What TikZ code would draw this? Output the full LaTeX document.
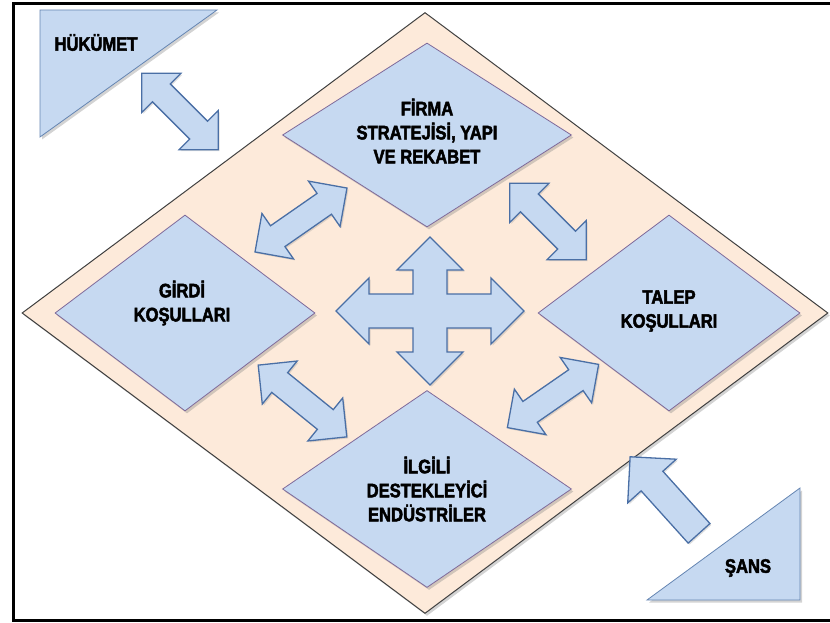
\documentclass[tikz,border=0pt]{standalone}
\usepackage{fontspec}
\newfontfamily\porterfont{Liberation Sans}[FakeStretch=0.85,FakeBold=2.5]
\usetikzlibrary{shapes.geometric,shapes.arrows,shadows}
\definecolor{seftali}{HTML}{FDEADA}
\definecolor{acikmavi}{HTML}{C6D9F1}
\definecolor{okkenar}{HTML}{4A6FA5}
\definecolor{elmaskenar}{HTML}{7F6A9A}
\tikzset{
  etiket/.style={font=\porterfont\fontsize{19.5pt}{24pt}\selectfont\bfseries,align=center,inner sep=0pt},
  golge/.style={drop shadow={opacity=0.35,shadow xshift=2pt,shadow yshift=-2.5pt}},
  buyuk/.style={diamond,draw=black!75,line width=1pt,fill=seftali,inner sep=0pt,golge},
  faktor/.style={diamond,draw=elmaskenar,line width=0.8pt,fill=acikmavi,inner sep=0pt,golge},
  kose/.style={draw=okkenar!85,line width=0.8pt,fill=acikmavi,golge},
  ciftok/.style={double arrow,draw=okkenar,line width=1.3pt,fill=acikmavi,inner sep=0pt,
    inner ysep=12pt,double arrow head extend=15pt,
    drop shadow={opacity=0.25,shadow xshift=1.5pt,shadow yshift=-1.5pt}},
  tekok/.style={single arrow,draw=okkenar,line width=1.3pt,fill=acikmavi,inner sep=0pt,
    inner ysep=14pt,single arrow head extend=18pt,
    drop shadow={opacity=0.25,shadow xshift=1.5pt,shadow yshift=-1.5pt}},
  dortok/.style={draw=okkenar,line width=1.3pt,fill=acikmavi,
    drop shadow={opacity=0.25,shadow xshift=1.5pt,shadow yshift=-1.5pt}}
}
\begin{document}
\begin{tikzpicture}[x=1pt,y=-1pt]
\useasboundingbox (0,0) rectangle (830,623);
\draw[line width=3pt] (13.5,3.5) rectangle (850,620.5);
% elmas
\node[buyuk,minimum width=806pt,minimum height=601pt] (elmas) at (425,313) {};
\node[faktor,minimum width=289pt,minimum height=184pt] (firma) at (427,135) {};
\node[faktor,minimum width=260pt,minimum height=196pt] (girdi) at (185,313) {};
\node[faktor,minimum width=262pt,minimum height=196pt] (talep) at (669,313) {};
\node[faktor,minimum width=289pt,minimum height=197pt] (ilgili) at (427,489) {};
\node[etiket,yshift=4pt] (firmayazi) at (firma) {FİRMA\\STRATEJİSİ, YAPI\\VE REKABET};
\node[etiket,xshift=-3pt,yshift=10pt] (girdiyazi) at (girdi) {GİRDİ\\KOŞULLARI};
\node[etiket,yshift=2pt] (talepyazi) at (talep) {TALEP\\KOŞULLARI};
\node[etiket] (ilgiliyazi) at (ilgili) {İLGİLİ\\DESTEKLEYİCİ\\ENDÜSTRİLER};
% dis etkenler
\draw[kose] (40,10) -- (217,10) -- (40,137) -- cycle;
\node[etiket] (hukumet) at (96,42.5) {HÜKÜMET};
\draw[kose] (800,488) -- (800,600) -- (647,600) -- cycle;
\node[etiket] (sans) at (748,568) {ŞANS};
% oklar
\node[ciftok,minimum height=108pt,rotate=-45] (hukumetok) at (180,111.5) {};
\path (girdi.center) -- node[ciftok,minimum height=112pt,xshift=-5pt,yshift=4pt,rotate=34.8] (girdifirma) {} (firma.center);
\path (firma.center) -- node[ciftok,minimum height=108pt,yshift=2.5pt,rotate=-45] (firmatalep) {} (talep.center);
\path (girdi.center) -- node[ciftok,minimum height=114pt,xshift=-3.5pt,rotate=-39] (girdiilgili) {} (ilgili.center);
\path (ilgili.center) -- node[ciftok,minimum height=111pt,xshift=5pt,yshift=5pt,rotate=34.7] (ilgilitalep) {} (talep.center);
\node[tekok,minimum height=103pt,rotate=132] (sansok) at (669.5,500.5) {};
\coordinate (merkez) at (430,311);
\draw[dortok] (merkez) ++(0,-74) -- ++(33,33) -- ++(-16,0) -- ++(0,24) -- ++(44,0) -- ++(0,-16)
  -- ++(33,33) -- ++(-33,33) -- ++(0,-16) -- ++(-44,0) -- ++(0,24) -- ++(16,0)
  -- ++(-33,33) -- ++(-33,-33) -- ++(16,0) -- ++(0,-24) -- ++(-44,0) -- ++(0,16)
  -- ++(-33,-33) -- ++(33,-33) -- ++(0,16) -- ++(44,0) -- ++(0,-24) -- ++(-16,0) -- cycle;
\end{tikzpicture}
\end{document}
